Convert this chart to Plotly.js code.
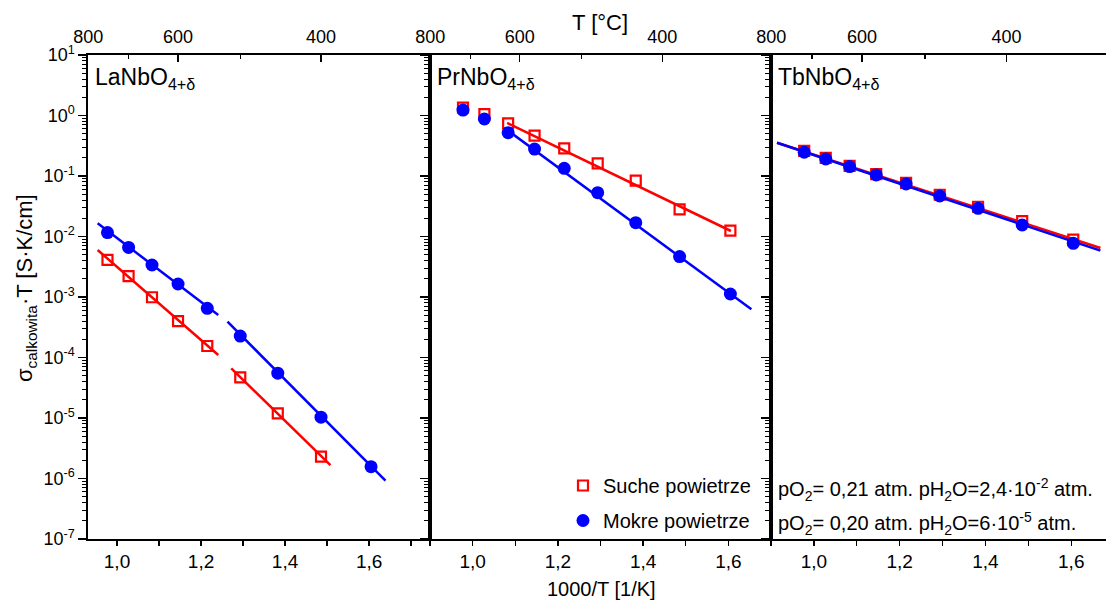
<!DOCTYPE html>
<html>
<head>
<meta charset="utf-8">
<script src="https://cdn.plot.ly/plotly-3.0.1.min.js"></script>
<style>html,body{margin:0;padding:0;background:#fff}#chart{width:1106px;height:601px}</style>
</head>
<body>
<div id="chart"></div>
<script>
// 1000/T [1/K] for the measurement temperatures 750..350 °C
const invT = [0.9774, 1.0276, 1.0833, 1.1453, 1.2149, 1.2934, 1.3827, 1.4856, 1.6047];

// LaNbO4+δ
const laDry = [0.0041, 0.00222, 0.00099, 0.0004, 0.000155, 4.7e-5, 1.19e-5, 2.3e-6, null];
const laWet = [0.0116, 0.0066, 0.00338, 0.00164, 0.00065, 0.000226, 5.5e-5, 1.03e-5, 1.57e-6];
const laFitDryX = [[0.954, 1.241], [1.272, 1.508]];
const laFitDryY = [[0.00598, 1.10e-4], [6.62e-5, 1.67e-6]];
const laFitWetX = [[0.954, 1.241], [1.263, 1.639]];
const laFitWetY = [[0.0165, 5.04e-4], [3.91e-4, 9.2e-7]];

// PrNbO4+δ
const prDry = [1.35, 1.05, 0.74, 0.465, 0.286, 0.162, 0.0838, 0.0281, 0.0125];
const prWet = [1.23, 0.875, 0.52, 0.279, 0.134, 0.053, 0.0169, 0.00465, 0.00112];
const prFitDryX = [1.081, 1.606];
const prFitDryY = [0.752, 0.01233];
const prFitWetX = [1.081, 1.654];
const prFitWetY = [0.575, 6.25e-4];

// TbNbO4+δ
const tbDry = [0.26, 0.20, 0.147, 0.107, 0.077, 0.049, 0.031, 0.018, 0.0089];
const tbWet = [0.247, 0.191, 0.143, 0.104, 0.0738, 0.0467, 0.0292, 0.0155, 0.0077];
const tbFitDryX = [0.914, 1.668];
const tbFitDryY = [0.355, 0.00646];
const tbFitWetX = [0.914, 1.668];
const tbFitWetY = [0.355, 0.00583];

// axis labels
const bottomTickVals = [0.9, 1.0, 1.1, 1.2, 1.3, 1.4, 1.5, 1.6, 1.7];
const bottomTickText = ['', '1,0', '', '1,2', '', '1,4', '', '1,6', ''];
const topMajorT = [800, 600, 400];
const topMinorT = [700, 500, 300];
const yExp = [-7, -6, -5, -4, -3, -2, -1, 0, 1];

const seriesNames = ['Suche powietrze', 'Mokre powietrze'];
const panelNames = ['LaNbO<sub>4+δ</sub>', 'PrNbO<sub>4+δ</sub>', 'TbNbO<sub>4+δ</sub>'];
const condTexts = ['pO<sub>2</sub>= 0,21 atm. pH<sub>2</sub>O=2,4·10<sup>-2</sup> atm.',
                   'pO<sub>2</sub>= 0,20 atm. pH<sub>2</sub>O=6·10<sup>-5</sup> atm.'];

const RED = '#ff0000', BLUE = '#0000ff';
const FONT = 'Liberation Sans, Arial, sans-serif';

const toInv = T => 1000 / (T + 273.15);

const traces = [];
function fit(x, y, color, xa, ya) {
  traces.push({x: x, y: y, xaxis: xa, yaxis: ya, mode: 'lines', line: {color: color, width: 2.5}, showlegend: false, hoverinfo: 'skip'});
}
function pts(y, kind, xa, ya, legend) {
  const dry = kind === 'dry';
  traces.push({
    x: invT, y: y, xaxis: xa, yaxis: ya, mode: 'markers',
    name: dry ? seriesNames[0] : seriesNames[1],
    showlegend: legend, legendgroup: kind,
    marker: dry ? {symbol: 'square-open', size: 10, color: RED, line: {width: 2.2, color: RED}}
                : {symbol: 'circle', size: 13, color: BLUE, line: {width: 0}}
  });
}
// panel 1
laFitDryX.forEach((x, i) => fit(x, laFitDryY[i], RED, 'x', 'y'));
laFitWetX.forEach((x, i) => fit(x, laFitWetY[i], BLUE, 'x', 'y'));
pts(laDry, 'dry', 'x', 'y', true);
pts(laWet, 'wet', 'x', 'y', true);
// panel 2
fit(prFitDryX, prFitDryY, RED, 'x2', 'y2');
pts(prDry, 'dry', 'x2', 'y2', false);
fit(prFitWetX, prFitWetY, BLUE, 'x2', 'y2');
pts(prWet, 'wet', 'x2', 'y2', false);
// panel 3
fit(tbFitDryX, tbFitDryY, RED, 'x3', 'y3');
pts(tbDry, 'dry', 'x3', 'y3', false);
fit(tbFitWetX, tbFitWetY, BLUE, 'x3', 'y3');
pts(tbWet, 'wet', 'x3', 'y3', false);
// anchor traces for the top (temperature) axes
[['x4', 'y'], ['x5', 'y2'], ['x6', 'y3']].forEach(a => traces.push({x: [1.2], y: [null], xaxis: a[0], yaxis: a[1], mode: 'markers', showlegend: false, hoverinfo: 'skip'}));

const W = 1106, H = 601, L = 88, R = 0, T = 55, B = 62;
const pw = W - L - R, ph = H - T - B;
const edges = [88, 430, 771, 1106].map(p => (p - L) / pw);
const px = p => (p - L) / pw;
const py = p => (H - B - p) / ph;

const bottomFont = {family: FONT, size: 19, color: '#000'};
const topFont = {family: FONT, size: 18, color: '#000'};
const yFont = {family: FONT, size: 18, color: '#000'};

function bottomAxis(i, range) {
  return {
    domain: [edges[i], edges[i + 1]], range: range, anchor: i === 0 ? 'y' : 'y' + (i + 1),
    showgrid: false, zeroline: false, showline: true, linecolor: '#000', linewidth: 1.6, mirror: true,
    ticks: 'outside', ticklen: 5, tickwidth: 1.3, tickcolor: '#000',
    tickmode: 'array', tickvals: bottomTickVals, ticktext: bottomTickText,
    tickfont: bottomFont
  };
}
function topAxis(i, range, over) {
  return {
    domain: [edges[i], edges[i + 1]], range: range, anchor: i === 0 ? 'y' : 'y' + (i + 1), overlaying: over, side: 'top',
    showgrid: false, zeroline: false, showline: false,
    ticks: 'inside', ticklen: 7, tickwidth: 1.3, tickcolor: '#000', ticklabelstandoff: 7,
    tickmode: 'array', tickvals: topMajorT.map(toInv), ticktext: topMajorT.map(String),
    minor: {tickmode: 'array', tickvals: topMinorT.map(toInv), ticks: 'inside', ticklen: 4, tickwidth: 1.3, tickcolor: '#000', showgrid: false},
    tickfont: topFont
  };
}
const yMinor = [];
yExp.slice(0, -1).forEach(e => { for (let k = 2; k <= 9; k++) yMinor.push(k * Math.pow(10, e)); });
function yAxis(i) {
  return {
    type: 'log', range: [-7, 1], domain: [0, 1],
    anchor: i === 0 ? 'x' : 'x' + (i + 1),
    showgrid: false, zeroline: false, showline: true, linecolor: '#000', linewidth: 1.6, mirror: true,
    ticks: 'outside', ticklen: 8, tickwidth: 1.3, tickcolor: '#000',
    tickmode: 'array', tickvals: yExp.map(e => Math.pow(10, e)),
    ticktext: yExp.map(e => '10<sup>' + e + '</sup>'),
    showticklabels: i === 0,
    minor: {tickmode: 'array', tickvals: yMinor, ticks: 'outside', ticklen: 4, tickwidth: 1, tickcolor: '#000', showgrid: false},
    tickfont: yFont
  };
}

const annotations = [];
panelNames.forEach((t, i) => annotations.push({
  xref: 'paper', yref: 'paper', x: edges[i] + 5 / pw, y: py(78),
  xanchor: 'left', yanchor: 'middle', text: t, showarrow: false,
  font: {family: FONT, size: 23, color: '#000'}
}));
condTexts.forEach((t, i) => annotations.push({
  xref: 'paper', yref: 'paper', x: px(776), y: py([489, 523][i]),
  xanchor: 'left', yanchor: 'middle', text: t, showarrow: false,
  font: {family: FONT, size: 20, color: '#000'}
}));
annotations.push({xref: 'paper', yref: 'paper', x: px(601), y: py(589),
  xanchor: 'center', yanchor: 'middle', text: '1000/T [1/K]', showarrow: false, font: {family: FONT, size: 20, color: '#000'}});
annotations.push({xref: 'paper', yref: 'paper', x: px(600), y: py(22),
  xanchor: 'center', yanchor: 'middle', text: 'T [°C]', showarrow: false, font: {family: FONT, size: 22, color: '#000'}});
annotations.push({xref: 'paper', yref: 'paper', x: px(26), y: py(288),
  xanchor: 'center', yanchor: 'middle', textangle: -90, text: 'σ<sub>calkowita</sub>·T [S·K/cm]', showarrow: false, font: {family: FONT, size: 22, color: '#000'}});

const layout = {
  width: W, height: H,
  margin: {l: L, r: R, t: T, b: B},
  paper_bgcolor: '#fff', plot_bgcolor: 'rgba(0,0,0,0)',
  font: {family: FONT, color: '#000'},
  xaxis: bottomAxis(0, [0.931, 1.745]),
  xaxis2: bottomAxis(1, [0.9, 1.7]),
  xaxis3: bottomAxis(2, [0.9, 1.681]),
  xaxis4: topAxis(0, [0.931, 1.745], 'x'),
  xaxis5: topAxis(1, [0.931, 1.745], 'x2'),
  xaxis6: topAxis(2, [0.931, 1.720], 'x3'),
  yaxis: yAxis(0),
  yaxis2: yAxis(1),
  yaxis3: yAxis(2),
  annotations: annotations,
  showlegend: true,
  legend: {
    x: px(563), y: py(540), xanchor: 'left', yanchor: 'bottom',
    bgcolor: 'rgba(0,0,0,0)', borderwidth: 0, traceorder: 'grouped', tracegroupgap: 6,
    font: {family: FONT, size: 20, color: '#000'}
  }
};

Plotly.newPlot('chart', traces, layout, {staticPlot: true, displayModeBar: false});
</script>
</body>
</html>
